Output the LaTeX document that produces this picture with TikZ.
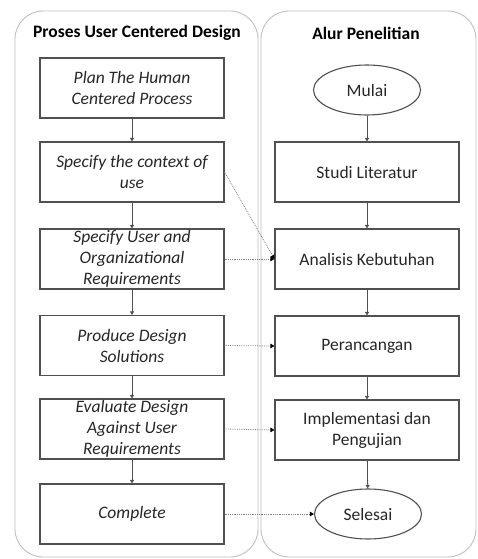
\documentclass[tikz,border=0pt]{standalone}
\usepackage{fontspec}
\setmainfont{Carlito}
\usetikzlibrary{arrows.meta,shapes.geometric}

\definecolor{linegray}{HTML}{505050}
\definecolor{panelgray}{HTML}{BFBFBF}
\definecolor{textgray}{HTML}{262626}

\tikzset{
  panel/.style={draw=panelgray,line width=0.9pt,rounded corners=28pt},
  ucdbox/.style={draw=linegray,line width=1.1pt,minimum width=184pt,minimum height=60pt,
    align=center,text=textgray,font=\fontsize{17.5}{21}\selectfont\itshape,inner sep=0pt},
  flowbox/.style={draw=linegray,line width=1.1pt,minimum width=184pt,minimum height=60pt,
    align=center,text=textgray,font=\fontsize{17.5}{21}\selectfont,inner sep=0pt},
  terminal/.style={ellipse,draw=linegray,line width=1.1pt,minimum width=107pt,minimum height=50pt,
    text=textgray,font=\fontsize{17.5}{21}\selectfont,inner sep=0pt},
  title/.style={text=black,font=\fontsize{17.5}{21}\selectfont\bfseries},
  flow/.style={draw=linegray,line width=0.8pt,-{Triangle[width=4pt,length=3.5pt]}},
  link/.style={draw=gray,line width=0.8pt,densely dotted,-{Triangle[width=4.5pt,length=4pt,color=black,fill=black]}}
}

\begin{document}
\begin{tikzpicture}[x=1pt,y=-1pt]
  \useasboundingbox (0,0) rectangle (477,559);

  % Panels
  \draw[panel] (15,11) rectangle (258,557);
  \draw[panel] (261,11) rectangle (476,557);

  % Titles
  \node[title] (ucdtitle) at (137,33) {Proses User Centered Design};
  \node[title] (alurtitle) at (366,33) {Alur Penelitian};

  % User centered design steps
  \node[ucdbox] (plan) at (132,88) {Plan The Human\\Centered Process};
  \node[ucdbox] (context) at (132,172) {Specify the context of\\use};
  \node[ucdbox] (req) at (132,259) {Specify User and\\Organizational\\Requirements};
  \node[ucdbox] (produce) at (132,345.5) {Produce Design\\Solutions};
  \node[ucdbox] (evaluate) at (132,429) {Evaluate Design\\Against User\\Requirements};
  \node[ucdbox] (complete) at (132,514) {Complete};

  % Research flow
  \node[terminal] (mulai) at (367,90) {Mulai};
  \node[flowbox] (studi) at (367,172) {Studi Literatur};
  \node[flowbox] (analisis) at (367,259) {Analisis Kebutuhan};
  \node[flowbox] (rancang) at (367,346) {Perancangan};
  \node[flowbox] (implement) at (367,430) {Implementasi dan\\Pengujian};
  \node[terminal] (selesai) at (368,514) {Selesai};

  % Solid arrows
  \draw[flow] (plan) -- (context);
  \draw[flow] (context) -- (req);
  \draw[flow] (req) -- (produce);
  \draw[flow] (produce) -- (evaluate);
  \draw[flow] (evaluate) -- (complete);

  \draw[flow] (mulai) -- (studi);
  \draw[flow] (studi) -- (analisis);
  \draw[flow] (analisis) -- (rancang);
  \draw[flow] (rancang) -- (implement);
  \draw[flow] (implement) -- (selesai);

  % Dotted links
  \draw[link] (context.east) -- (analisis.west);
  \draw[link] (req.east) -- (analisis.west);
  \draw[link] (produce.east) -- (rancang.west);
  \draw[link] (evaluate.east) -- (implement.west);
  \draw[link] (complete.east) -- (selesai.west);
\end{tikzpicture}
\end{document}
